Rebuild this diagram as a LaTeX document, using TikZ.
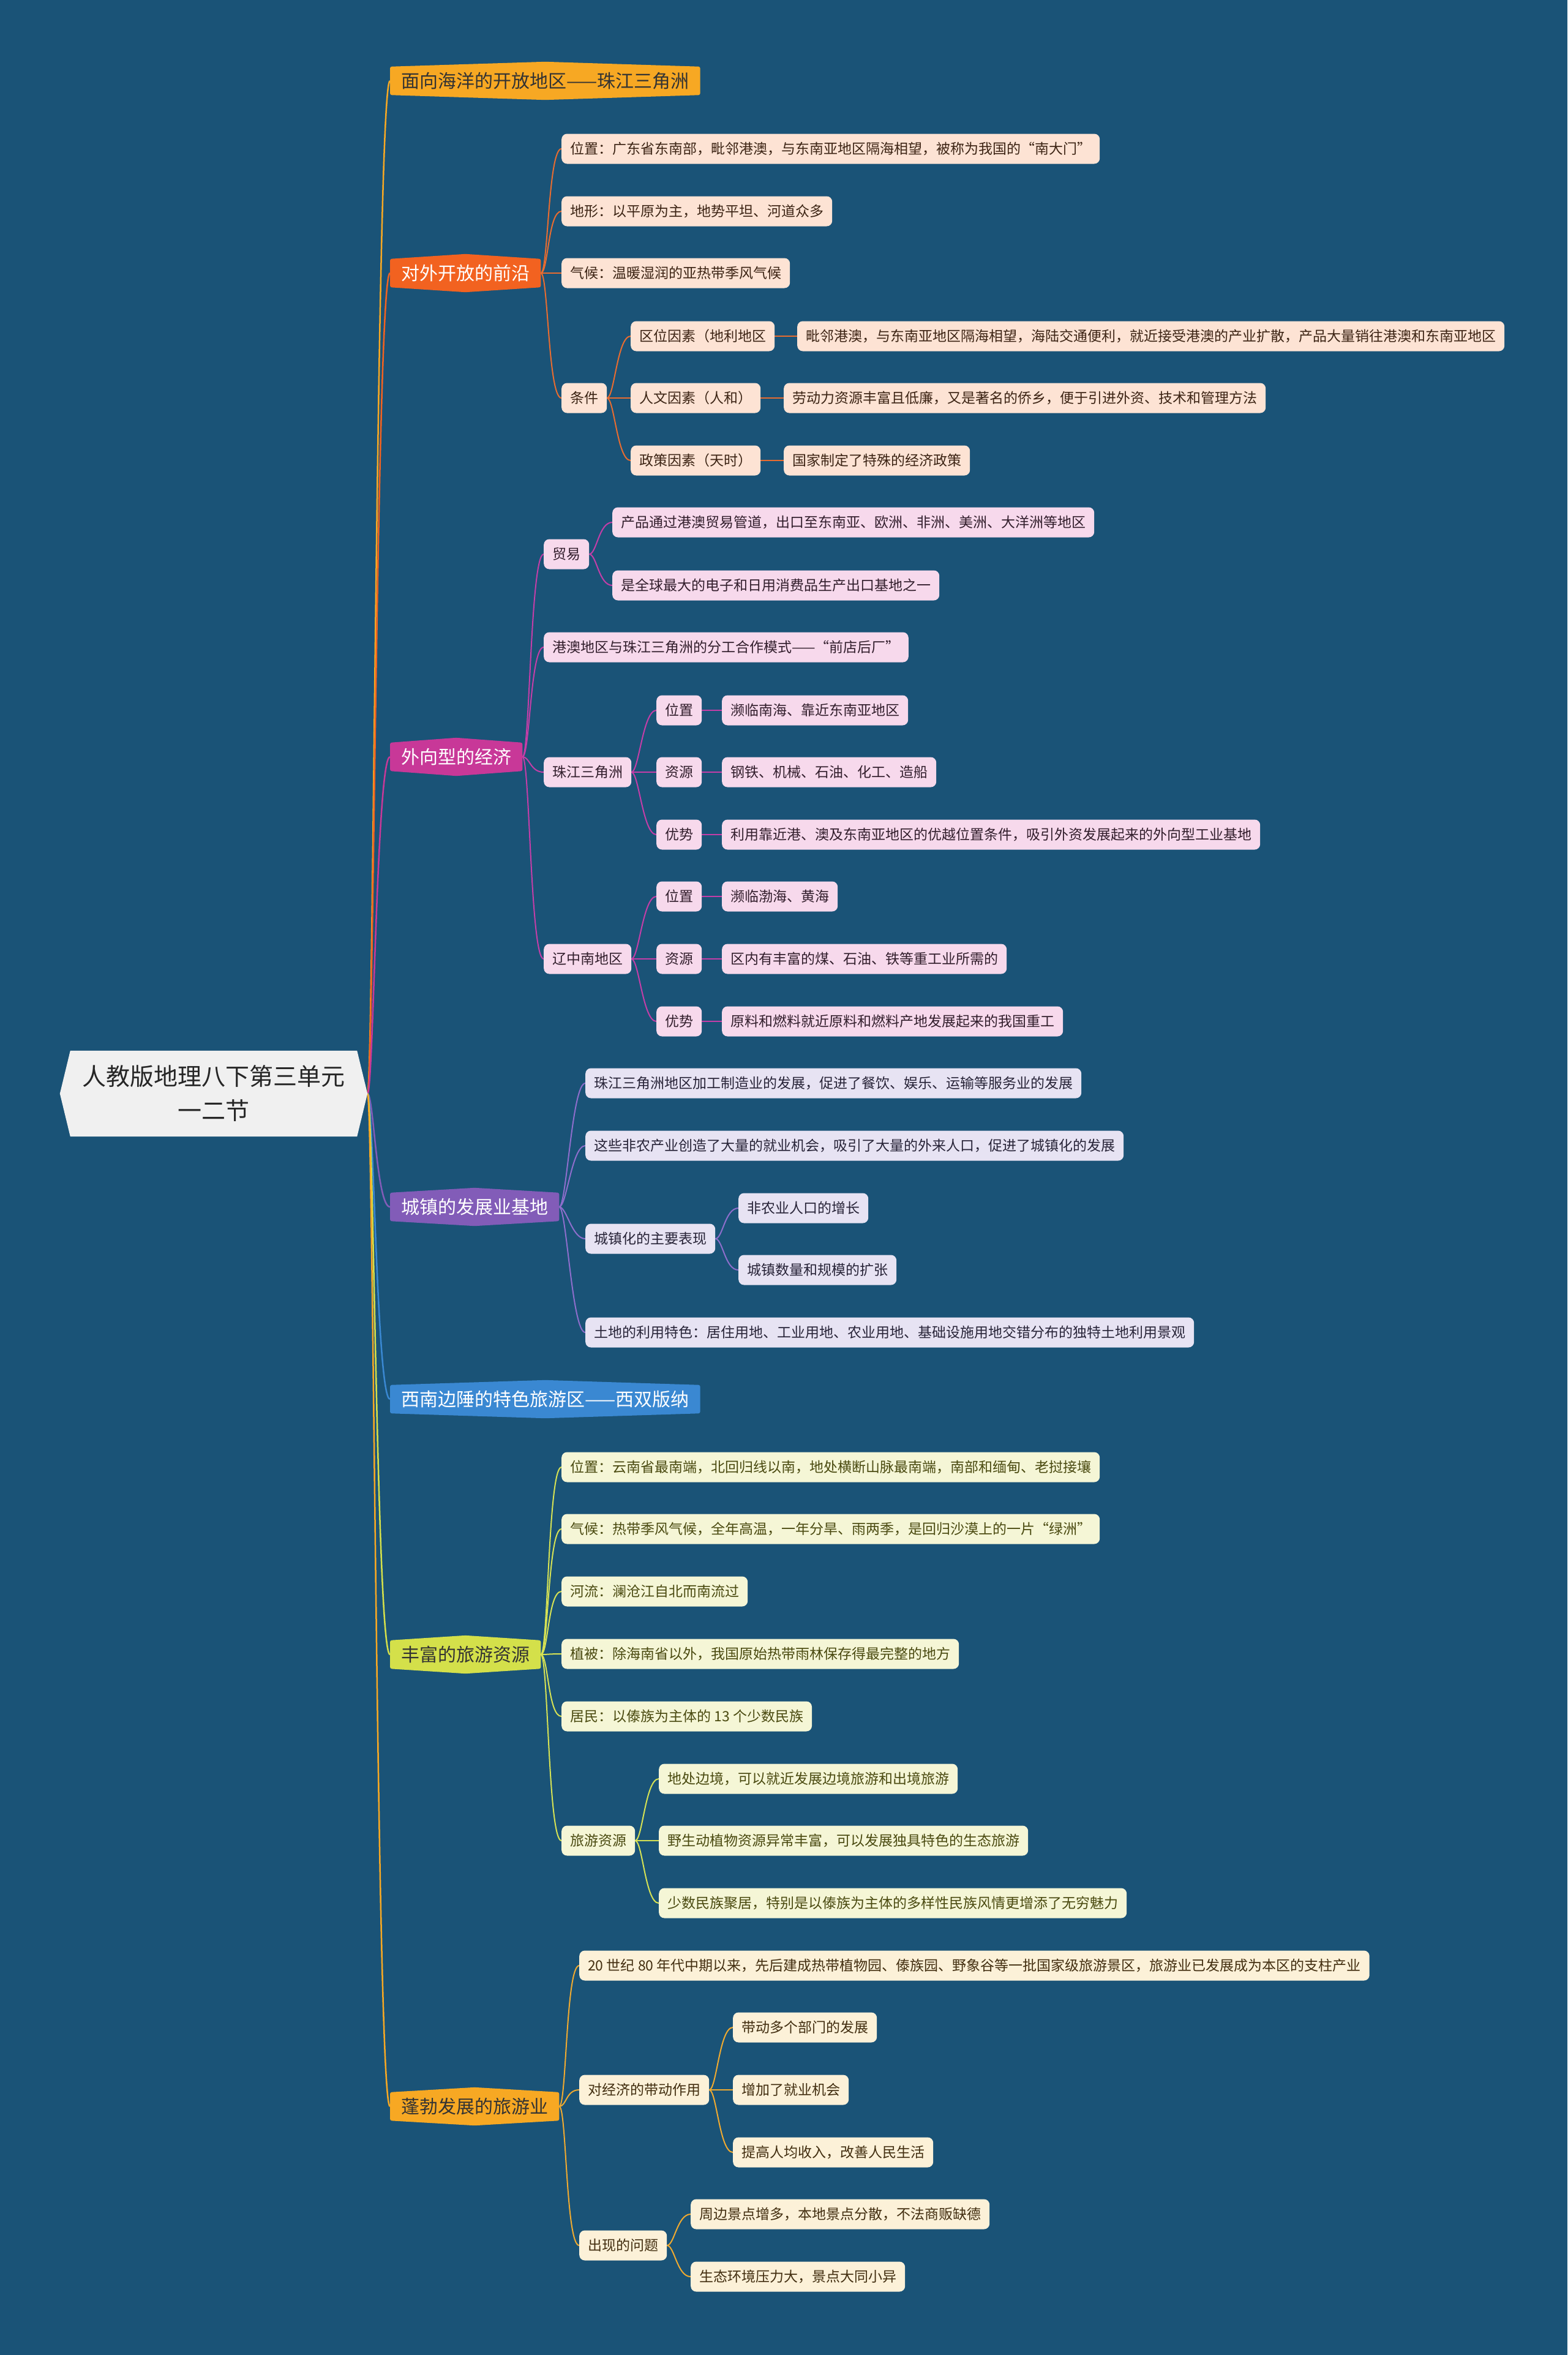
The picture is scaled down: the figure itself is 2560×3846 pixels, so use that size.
\documentclass[tikz,border=0pt]{standalone}
\usepackage{fontspec}
\newfontfamily\cjk{Noto Sans CJK SC}
\usetikzlibrary{backgrounds}

\definecolor{bgblue}{RGB}{26,83,119}
\definecolor{rootgray}{RGB}{240,240,240}
\definecolor{orgA}{RGB}{247,168,35}
\definecolor{orgB}{RGB}{242,98,32}
\definecolor{magC}{RGB}{200,56,152}
\definecolor{purD}{RGB}{130,92,184}
\definecolor{bluE}{RGB}{58,136,210}
\definecolor{ygrF}{RGB}{212,224,74}
\definecolor{lnB}{RGB}{232,108,48}
\definecolor{lnC}{RGB}{196,62,168}
\definecolor{lnD}{RGB}{142,110,204}
\definecolor{lnF}{RGB}{214,226,84}
\definecolor{lnG}{RGB}{240,170,48}
\definecolor{fillB}{RGB}{253,227,212}
\definecolor{fillC}{RGB}{247,217,236}
\definecolor{fillD}{RGB}{231,227,243}
\definecolor{fillF}{RGB}{245,246,214}
\definecolor{fillG}{RGB}{252,241,216}
\definecolor{txtB}{RGB}{60,36,20}
\definecolor{txtC}{RGB}{50,30,44}
\definecolor{txtD}{RGB}{40,36,56}
\definecolor{txtF}{RGB}{74,74,16}
\definecolor{txtG}{RGB}{66,46,16}

% hexagonal box behind a branch node
\newcommand\branchshape[2]{\fill[#2, rounded corners=3] (#1.north west) -- ([yshift=8pt]#1.north) -- (#1.north east) -- (#1.south east) -- ([yshift=-8pt]#1.south) -- (#1.south west) -- cycle;}

\begin{document}
\begin{tikzpicture}[x=1pt, y=-1pt,
    every node/.style={inner sep=0pt},
    mainbox/.style={anchor=west, minimum height=46, inner xsep=18, font=\cjk\fontsize{30}{36}\selectfont},
    leaf/.style={anchor=west, rounded corners=9, minimum height=49, inner xsep=14, font=\cjk\fontsize{23}{28}\selectfont},
    leafB/.style={leaf, fill=fillB, text=txtB},
    leafC/.style={leaf, fill=fillC, text=txtC},
    leafD/.style={leaf, fill=fillD, text=txtD},
    leafF/.style={leaf, fill=fillF, text=txtF},
    leafG/.style={leaf, fill=fillG, text=txtG},
    link/.style={line width=2},
    trunk/.style={line width=2.5}]

    \useasboundingbox (0,0) rectangle (2560,3846);

    % 中心主题
    \node[minimum width=468, minimum height=140, align=center, text=black!85,
          font=\cjk\fontsize{39}{56}\selectfont] (root) at (349,1786)
          {人教版地理八下第三单元\\一二节};
    \coordinate (rtip) at ([xshift=17pt]root.east);

    % 一级分支
    \node[mainbox, text=black!80] (b1) at (637,132) {面向海洋的开放地区——珠江三角洲};
    \node[mainbox, text=white] (b2) at (637,446) {对外开放的前沿};
    \node[mainbox, text=white] (b3) at (637,1236) {外向型的经济};
    \node[mainbox, text=white] (b4) at (637,1971) {城镇的发展业基地};
    \node[mainbox, text=white] (b5) at (637,2285) {西南边陲的特色旅游区——西双版纳};
    \node[mainbox, text=black!80] (b6) at (637,2702) {丰富的旅游资源};
    \node[mainbox, text=black!80] (b7) at (637,3440) {蓬勃发展的旅游业};

    % 对外开放的前沿
    \node[leafB] (bpos) at (917,243) {位置：广东省东南部，毗邻港澳，与东南亚地区隔海相望，被称为我国的“南大门”};
    \node[leafB] (bter) at (917,345) {地形：以平原为主，地势平坦、河道众多};
    \node[leafB] (bcli) at (917,446) {气候：温暖湿润的亚热带季风气候};
    \node[leafB] (bcon) at (917,650) {条件};
    \node[leafB] (cloc) at (1030,549) {区位因素（地利地区};
    \node[leafB] (chum) at (1030,650) {人文因素（人和）};
    \node[leafB] (cpol) at (1030,752) {政策因素（天时）};
    \node[leafB] (clocx) at (1302,549) {毗邻港澳，与东南亚地区隔海相望，海陆交通便利，就近接受港澳的产业扩散，产品大量销往港澳和东南亚地区};
    \node[leafB] (chumx) at (1280,650) {劳动力资源丰富且低廉，又是著名的侨乡，便于引进外资、技术和管理方法};
    \node[leafB] (cpolx) at (1280,752) {国家制定了特殊的经济政策};

    % 外向型的经济
    \node[leafC] (trade) at (888,905) {贸易};
    \node[leafC] (tra) at (1000,853) {产品通过港澳贸易管道，出口至东南亚、欧洲、非洲、美洲、大洋洲等地区};
    \node[leafC] (trb) at (1000,956) {是全球最大的电子和日用消费品生产出口基地之一};
    \node[leafC] (mode) at (888,1057) {港澳地区与珠江三角洲的分工合作模式——“前店后厂”};
    \node[leafC] (prd) at (888,1261) {珠江三角洲};
    \node[leafC] (prdp) at (1072,1160) {位置};
    \node[leafC] (prdr) at (1072,1261) {资源};
    \node[leafC] (prda) at (1072,1363) {优势};
    \node[leafC] (prdpx) at (1179,1160) {濒临南海、靠近东南亚地区};
    \node[leafC] (prdrx) at (1179,1261) {钢铁、机械、石油、化工、造船};
    \node[leafC] (prdax) at (1179,1363) {利用靠近港、澳及东南亚地区的优越位置条件，吸引外资发展起来的外向型工业基地};
    \node[leafC] (lzn) at (888,1566) {辽中南地区};
    \node[leafC] (lznp) at (1072,1464) {位置};
    \node[leafC] (lznr) at (1072,1566) {资源};
    \node[leafC] (lzna) at (1072,1668) {优势};
    \node[leafC] (lznpx) at (1179,1464) {濒临渤海、黄海};
    \node[leafC] (lznrx) at (1179,1566) {区内有丰富的煤、石油、铁等重工业所需的};
    \node[leafC] (lznax) at (1179,1668) {原料和燃料就近原料和燃料产地发展起来的我国重工};

    % 城镇的发展业基地
    \node[leafD] (tw1) at (956,1769) {珠江三角洲地区加工制造业的发展，促进了餐饮、娱乐、运输等服务业的发展};
    \node[leafD] (tw2) at (956,1871) {这些非农产业创造了大量的就业机会，吸引了大量的外来人口，促进了城镇化的发展};
    \node[leafD] (tw3) at (956,2023) {城镇化的主要表现};
    \node[leafD] (tw3a) at (1206,1973) {非农业人口的增长};
    \node[leafD] (tw3b) at (1206,2074) {城镇数量和规模的扩张};
    \node[leafD] (tw4) at (956,2176) {土地的利用特色：居住用地、工业用地、农业用地、基础设施用地交错分布的独特土地利用景观};

    % 丰富的旅游资源
    \node[leafF] (rs1) at (917,2396) {位置：云南省最南端，北回归线以南，地处横断山脉最南端，南部和缅甸、老挝接壤};
    \node[leafF] (rs2) at (917,2497) {气候：热带季风气候，全年高温，一年分旱、雨两季，是回归沙漠上的一片“绿洲”};
    \node[leafF] (rs3) at (917,2599) {河流：澜沧江自北而南流过};
    \node[leafF] (rs4) at (917,2701) {植被：除海南省以外，我国原始热带雨林保存得最完整的地方};
    \node[leafF] (rs5) at (917,2803) {居民：以傣族为主体的 13 个少数民族};
    \node[leafF] (rs6) at (917,3006) {旅游资源};
    \node[leafF] (rs6a) at (1076,2905) {地处边境，可以就近发展边境旅游和出境旅游};
    \node[leafF] (rs6b) at (1076,3006) {野生动植物资源异常丰富，可以发展独具特色的生态旅游};
    \node[leafF] (rs6c) at (1076,3108) {少数民族聚居，特别是以傣族为主体的多样性民族风情更增添了无穷魅力};

    % 蓬勃发展的旅游业
    \node[leafG] (tr1) at (946,3210) {20 世纪 80 年代中期以来，先后建成热带植物园、傣族园、野象谷等一批国家级旅游景区，旅游业已发展成为本区的支柱产业};
    \node[leafG] (tr2) at (946,3413) {对经济的带动作用};
    \node[leafG] (tr2a) at (1197,3311) {带动多个部门的发展};
    \node[leafG] (tr2b) at (1197,3413) {增加了就业机会};
    \node[leafG] (tr2c) at (1197,3515) {提高人均收入，改善人民生活};
    \node[leafG] (tr3) at (946,3667) {出现的问题};
    \node[leafG] (tr3a) at (1128,3616) {周边景点增多，本地景点分散，不法商贩缺德};
    \node[leafG] (tr3b) at (1128,3718) {生态环境压力大，景点大同小异};

    \begin{pgfonlayer}{background}
        \fill[bgblue] (0,0) rectangle (2560,3846);

        % 中心到一级分支
        \foreach \b/\c in {b1/orgA, b2/orgB, b3/magC, b4/purD, b5/bluE, b6/ygrF, b7/orgA}
            \draw[trunk, \c] (rtip) .. controls +(10,0) and +(-22,0) .. (\b.west);

        % 分支内部连线
        \foreach \p/\k in {b2/bpos, b2/bter, b2/bcli, b2/bcon, bcon/cloc, bcon/chum, bcon/cpol,
                           cloc/clocx, chum/chumx, cpol/cpolx}
            \draw[link, lnB] (\p.east) .. controls +(12,0) and +(-22,0) .. (\k.west);
        \foreach \p/\k in {b3/trade, b3/mode, b3/prd, b3/lzn, trade/tra, trade/trb,
                           prd/prdp, prd/prdr, prd/prda, prdp/prdpx, prdr/prdrx, prda/prdax,
                           lzn/lznp, lzn/lznr, lzn/lzna, lznp/lznpx, lznr/lznrx, lzna/lznax}
            \draw[link, lnC] (\p.east) .. controls +(12,0) and +(-22,0) .. (\k.west);
        \foreach \p/\k in {b4/tw1, b4/tw2, b4/tw3, b4/tw4, tw3/tw3a, tw3/tw3b}
            \draw[link, lnD] (\p.east) .. controls +(12,0) and +(-22,0) .. (\k.west);
        \foreach \p/\k in {b6/rs1, b6/rs2, b6/rs3, b6/rs4, b6/rs5, b6/rs6,
                           rs6/rs6a, rs6/rs6b, rs6/rs6c}
            \draw[link, lnF] (\p.east) .. controls +(12,0) and +(-22,0) .. (\k.west);
        \foreach \p/\k in {b7/tr1, b7/tr2, b7/tr3, tr2/tr2a, tr2/tr2b, tr2/tr2c, tr3/tr3a, tr3/tr3b}
            \draw[link, lnG] (\p.east) .. controls +(12,0) and +(-22,0) .. (\k.west);

        % 分支外框
        \branchshape{b1}{orgA}
        \branchshape{b2}{orgB}
        \branchshape{b3}{magC}
        \branchshape{b4}{purD}
        \branchshape{b5}{bluE}
        \branchshape{b6}{ygrF}
        \branchshape{b7}{orgA}
        \fill[rootgray] (root.north west) -- (root.north east) -- (rtip) -- (root.south east)
            -- (root.south west) -- ([xshift=-17pt]root.west) -- cycle;
    \end{pgfonlayer}
\end{tikzpicture}
\end{document}
